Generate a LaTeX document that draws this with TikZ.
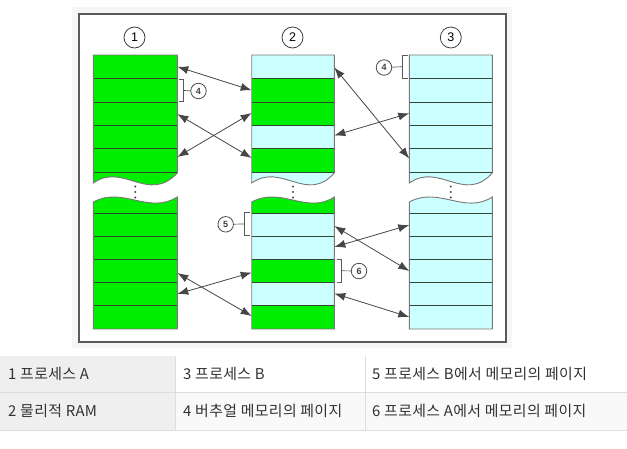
\documentclass[tikz,border=0pt]{standalone}
\usepackage{fontspec}
\setmainfont{Liberation Sans}
\newfontfamily\krfont[LetterSpace=2.5]{Noto Sans CJK KR}
\usetikzlibrary{arrows.meta}
\definecolor{gcol}{RGB}{0,238,0}
\definecolor{ccol}{RGB}{204,255,255}
\definecolor{olcol}{RGB}{120,120,120}
\definecolor{rlcol}{RGB}{50,70,50}
\definecolor{arrcol}{RGB}{70,70,70}
\definecolor{bgout}{RGB}{246,246,246}
\definecolor{framecol}{RGB}{90,90,90}
\definecolor{tgray}{RGB}{239,239,239}
\definecolor{tlight}{RGB}{249,249,249}
\definecolor{tline}{RGB}{221,221,221}
\definecolor{txtcol}{RGB}{50,50,50}
\tikzset{
  rowline/.style={draw=rlcol, line width=0.9pt},
  outline/.style={draw=olcol, line width=0.9pt},
  dbl/.style={{Latex[length=11pt,width=8pt]}-{Latex[length=11pt,width=8pt]}, draw=arrcol, line width=0.8pt},
  bigc/.style={circle, draw=black!75, line width=0.8pt, minimum size=21pt, inner sep=0pt, font=\fontsize{12.5}{12.5}\selectfont},
  smallc/.style={circle, draw=black!70, line width=0.8pt, minimum size=15.5pt, inner sep=0pt, font=\fontsize{9}{9}\selectfont\bfseries, text=black!75},
  brk/.style={draw=black!65, line width=0.7pt},
  tcell/.style={anchor=west, inner sep=0pt, text=txtcol, font=\krfont\fontsize{14.9}{16}\selectfont},
}
\newcommand\uppercol[8]{%
  \fill[#3] (#1,55) rectangle (#2,78.5);
  \fill[#4] (#1,78.5) rectangle (#2,102);
  \fill[#5] (#1,102) rectangle (#2,125.3);
  \fill[#6] (#1,125.3) rectangle (#2,148.7);
  \fill[#7] (#1,148.7) rectangle (#2,172);
  \fill[#8] (#1,172) -- (#2,172) -- (#2,173) .. controls ({#1+55},204) and ({#1+30},162) .. (#1,183) -- cycle;
  \draw[rowline] (#1,78.5) -- (#2,78.5) (#1,102) -- (#2,102) (#1,125.3) -- (#2,125.3) (#1,148.7) -- (#2,148.7) (#1,172) -- (#2,172);
  \draw[outline] (#1,183) -- (#1,55) -- (#2,55) -- (#2,173) .. controls ({#1+55},204) and ({#1+30},162) .. (#1,183) -- cycle;
}
\newcommand\lowercol[8]{%
  \fill[#3] (#1,202) .. controls ({#1+30},186) and ({#1+55},215) .. (#2,197) -- (#2,213) -- (#1,213) -- cycle;
  \fill[#4] (#1,213) rectangle (#2,236.2);
  \fill[#5] (#1,236.2) rectangle (#2,259.4);
  \fill[#6] (#1,259.4) rectangle (#2,282.6);
  \fill[#7] (#1,282.6) rectangle (#2,305.8);
  \fill[#8] (#1,305.8) rectangle (#2,329);
  \draw[rowline] (#1,213) -- (#2,213) (#1,236.2) -- (#2,236.2) (#1,259.4) -- (#2,259.4) (#1,282.6) -- (#2,282.6) (#1,305.8) -- (#2,305.8);
  \draw[outline] (#1,329) -- (#1,202) .. controls ({#1+30},186) and ({#1+55},215) .. (#2,197) -- (#2,329) -- cycle;
}
\begin{document}
\begin{tikzpicture}[x=1pt,y=-1pt]
\useasboundingbox (0,0) rectangle (627,448);
% frame
\fill[bgout] (72,7) rectangle (512,348);
\draw[framecol, fill=white, line width=1.2pt] (79,14) rectangle (506,342);
% columns
\uppercol{93.3}{177.3}{gcol}{gcol}{gcol}{gcol}{gcol}{gcol}
\lowercol{93.3}{177.3}{gcol}{gcol}{gcol}{gcol}{gcol}{gcol}
\uppercol{251.7}{334.3}{ccol}{gcol}{gcol}{ccol}{gcol}{ccol}
\lowercol{251.7}{334.3}{gcol}{ccol}{ccol}{gcol}{ccol}{gcol}
\uppercol{409.3}{492.3}{ccol}{ccol}{ccol}{ccol}{ccol}{ccol}
\lowercol{409.3}{492.3}{ccol}{ccol}{ccol}{ccol}{ccol}{ccol}
\fill[black!70] (135.3,186.5) circle (1.1) (135.3,192) circle (1.1) (135.3,197.5) circle (1.1);
\fill[black!70] (293,186.5) circle (1.1) (293,192) circle (1.1) (293,197.5) circle (1.1);
\fill[black!70] (450.8,186.5) circle (1.1) (450.8,192) circle (1.1) (450.8,197.5) circle (1.1);
% labels
\node[bigc] (n1) at (134.5,37.5) {1};
\node[bigc] (n2) at (292.5,37.5) {2};
\node[bigc] (n3) at (450.8,37.5) {3};
\node[smallc] (n4a) at (198.5,91) {4};
\node[smallc] (n4b) at (384,67.5) {4};
\node[smallc] (n5) at (225.7,224.3) {5};
\node[smallc] (n6) at (359,271) {6};
% brackets
\coordinate (b4a) at (183,90.5);
\coordinate (b4b) at (402.7,66.7);
\coordinate (b5) at (244.5,224);
\coordinate (b6) at (341,270.8);
\draw[brk] (178.5,79) -- (183,79) -- (183,101.7) -- (178.5,101.7);
\draw[brk] (b4a) -- (n4a);
\draw[brk] (407.5,55) -- (402.7,55) -- (402.7,78.3) -- (407.5,78.3);
\draw[brk] (n4b) -- (b4b);
\draw[brk] (250,212.5) -- (244.5,212.5) -- (244.5,235.7) -- (250,235.7);
\draw[brk] (n5) -- (b5);
\draw[brk] (336.5,259.2) -- (341,259.2) -- (341,282.4) -- (336.5,282.4);
\draw[brk] (b6) -- (n6);
% arrow endpoints
\coordinate (a1l) at (177.3,66.7);  \coordinate (a1r) at (251.7,90.3);
\coordinate (a2l) at (177.3,114);   \coordinate (a2r) at (251.7,158);
\coordinate (a3l) at (177.3,157);   \coordinate (a3r) at (251.7,113);
\coordinate (b1l) at (334.3,67.5);  \coordinate (b1r) at (409.3,158.5);
\coordinate (b2l) at (334.3,135.5); \coordinate (b2r) at (409.3,113.3);
\coordinate (c1l) at (177.3,273);   \coordinate (c1r) at (251.7,316);
\coordinate (c2l) at (177.3,294);   \coordinate (c2r) at (251.7,272.5);
\coordinate (d1l) at (334.3,226);   \coordinate (d1r) at (409.3,271);
\coordinate (d2l) at (334.3,247);   \coordinate (d2r) at (409.3,225);
\coordinate (d3l) at (334.3,293.5); \coordinate (d3r) at (409.3,317);
\foreach \p in {a1,a2,a3,b1,b2,c1,c2,d1,d2,d3} \draw[dbl] (\p l) -- (\p r);
% table
\fill[tgray] (0,356) rectangle (175.5,430);
\fill[tlight] (175.5,392) rectangle (627,430);
\draw[tline, line width=1pt] (0,392) -- (627,392) (0,430) -- (627,430) (175.5,356) -- (175.5,430) (365.5,356) -- (365.5,430);
\node[tcell] (t1) at (8,374) {1 프로세스 A};
\node[tcell] (t3) at (183,374) {3 프로세스 B};
\node[tcell] (t5) at (372,374) {5 프로세스 B에서 메모리의 페이지};
\node[tcell] (t2) at (8,411) {2 물리적 RAM};
\node[tcell] (t4) at (183,411) {4 버추얼 메모리의 페이지};
\node[tcell] (t6) at (372,411) {6 프로세스 A에서 메모리의 페이지};
\end{tikzpicture}
\end{document}
